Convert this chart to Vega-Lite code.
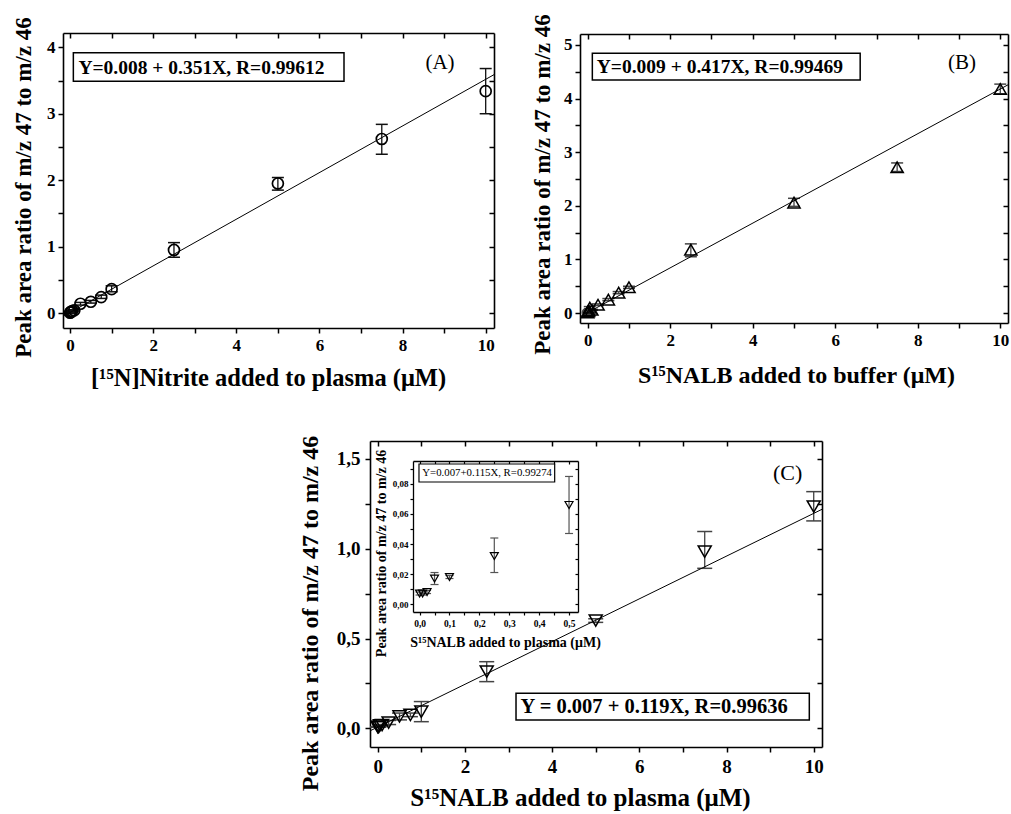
{
"$schema": "https://vega.github.io/schema/vega-lite/v6.json",
"width": 1011, "height": 814, "padding": 0, "autosize": {"type": "none"},
"background": "white",
"config": {
 "view": {"stroke": null},
 "axis": {"labelFont": "Liberation Serif", "titleFont": "Liberation Serif", "labelFontWeight": "bold", "titleFontWeight": "bold", "labelColor": "black", "titleColor": "black", "tickColor": "black", "domainColor": "black", "grid": false, "tickWidth": 1.5, "domainWidth": 1.6, "labelFlush": false, "labelOverlap": false, "labelBound": false}
},
"datasets": {
 "A": [
  {"x": 0, "y": 0.005, "lo": -0.01, "hi": 0.02},
  {"x": 0.01, "y": 0.01, "lo": 0.0, "hi": 0.02},
  {"x": 0.025, "y": 0.02, "lo": 0.01, "hi": 0.03},
  {"x": 0.05, "y": 0.03, "lo": 0.02, "hi": 0.04},
  {"x": 0.1, "y": 0.04, "lo": 0.03, "hi": 0.05},
  {"x": 0.25, "y": 0.14, "lo": 0.12, "hi": 0.16},
  {"x": 0.5, "y": 0.17, "lo": 0.15, "hi": 0.19},
  {"x": 0.75, "y": 0.24, "lo": 0.22, "hi": 0.27},
  {"x": 1, "y": 0.36, "lo": 0.32, "hi": 0.41},
  {"x": 2.5, "y": 0.95, "lo": 0.84, "hi": 1.06},
  {"x": 5, "y": 1.95, "lo": 1.85, "hi": 2.04},
  {"x": 7.5, "y": 2.62, "lo": 2.39, "hi": 2.84},
  {"x": 10, "y": 3.34, "lo": 3.0, "hi": 3.68}
 ],
 "B": [
  {"x": 0, "y": 0.01, "lo": 0.0, "hi": 0.02},
  {"x": 0.01, "y": 0.03, "lo": 0.02, "hi": 0.04},
  {"x": 0.025, "y": 0.05, "lo": 0.04, "hi": 0.06},
  {"x": 0.05, "y": 0.1, "lo": 0.08, "hi": 0.12},
  {"x": 0.1, "y": 0.06, "lo": 0.05, "hi": 0.07},
  {"x": 0.25, "y": 0.155, "lo": 0.14, "hi": 0.17},
  {"x": 0.5, "y": 0.25, "lo": 0.23, "hi": 0.27},
  {"x": 0.75, "y": 0.38, "lo": 0.36, "hi": 0.4},
  {"x": 1, "y": 0.48, "lo": 0.46, "hi": 0.5},
  {"x": 2.5, "y": 1.18, "lo": 1.05, "hi": 1.29},
  {"x": 5, "y": 2.06, "lo": 1.99, "hi": 2.14},
  {"x": 7.5, "y": 2.72, "lo": 2.64, "hi": 2.8},
  {"x": 10, "y": 4.18, "lo": 4.09, "hi": 4.27}
 ],
 "C": [
  {"x": 0, "y": 0.007, "lo": 0.006, "hi": 0.008},
  {"x": 0.01, "y": 0.007, "lo": 0.006, "hi": 0.008},
  {"x": 0.025, "y": 0.008, "lo": 0.007, "hi": 0.009},
  {"x": 0.05, "y": 0.017, "lo": 0.013, "hi": 0.021},
  {"x": 0.1, "y": 0.018, "lo": 0.017, "hi": 0.019},
  {"x": 0.25, "y": 0.032, "lo": 0.021, "hi": 0.044},
  {"x": 0.5, "y": 0.066, "lo": 0.047, "hi": 0.085},
  {"x": 0.75, "y": 0.075, "lo": 0.065, "hi": 0.085},
  {"x": 1, "y": 0.093, "lo": 0.037, "hi": 0.149},
  {"x": 2.5, "y": 0.316, "lo": 0.26, "hi": 0.371},
  {"x": 5, "y": 0.6, "lo": 0.59, "hi": 0.61},
  {"x": 7.5, "y": 0.984, "lo": 0.891, "hi": 1.096},
  {"x": 10, "y": 1.235, "lo": 1.155, "hi": 1.318}
 ]
},
"layer": [
 {
  "data": {"name": "A"},
  "layer": [
   {"mark": {"type": "rule", "color": "#111", "strokeWidth": 1.3},
    "encoding": {"x": {"field": "x", "type": "quantitative", "scale": {"domain": [-0.17, 10.2], "range": [63, 494], "nice": false, "zero": false}, "axis": null},
                 "y": {"field": "lo", "type": "quantitative", "scale": {"domain": [-0.225, 4.215], "range": [328, 33], "nice": false, "zero": false}, "axis": null}, "y2": {"field": "hi"}}},
   {"mark": {"type": "tick", "orient": "horizontal", "size": 12, "thickness": 1.5, "color": "#111", "opacity": 1},
    "encoding": {"x": {"field": "x", "type": "quantitative", "scale": {"domain": [-0.17, 10.2], "range": [63, 494], "nice": false, "zero": false}, "axis": null},
                 "y": {"field": "lo", "type": "quantitative", "scale": {"domain": [-0.225, 4.215], "range": [328, 33], "nice": false, "zero": false}, "axis": null}}},
   {"mark": {"type": "tick", "orient": "horizontal", "size": 12, "thickness": 1.5, "color": "#111", "opacity": 1},
    "encoding": {"x": {"field": "x", "type": "quantitative", "scale": {"domain": [-0.17, 10.2], "range": [63, 494], "nice": false, "zero": false}, "axis": null},
                 "y": {"field": "hi", "type": "quantitative", "scale": {"domain": [-0.225, 4.215], "range": [328, 33], "nice": false, "zero": false}, "axis": null}}},
   {"data": {"values": [{"x": -0.17, "y": -0.0517}, {"x": 10.2, "y": 3.5882}]}, "mark": {"type": "line", "color": "black", "strokeWidth": 1},
    "encoding": {
     "x": {"field": "x", "type": "quantitative", "scale": {"domain": [-0.17, 10.2], "range": [63, 494], "nice": false, "zero": false}, "axis": {"orient": "top", "offset": -33, "values": [0,1,2,3,4,5,6,7,8,9,10], "labels": false, "tickSize": -5, "title": null}},
     "y": {"field": "y", "type": "quantitative", "scale": {"domain": [-0.225, 4.215], "range": [328, 33], "nice": false, "zero": false}, "axis": {"orient": "right", "offset": -517, "values": [0,0.5,1,1.5,2,2.5,3,3.5,4], "labels": false, "tickSize": -5, "title": null}}
    }},
   {"mark": {"type": "point", "shape": "circle", "size": 120, "filled": false, "strokeWidth": 1.7, "color": "black", "opacity": 1},
    "encoding": {
     "x": {"field": "x", "type": "quantitative", "scale": {"domain": [-0.17, 10.2], "range": [63, 494], "nice": false, "zero": false}, "axis": {"orient": "bottom", "offset": -486, "values": [0,1,2,3,4,5,6,7,8,9,10], "labelExpr": "datum.value % 2 === 0 ? format(datum.value, 'd') : ''", "tickSize": 5, "labelFontSize": 17, "labelPadding": 4, "title": "[¹⁵N]Nitrite added to plasma (μM)", "titleFontSize": 24.5, "titlePadding": 13, "titleX": 268}},
     "y": {"field": "y", "type": "quantitative", "scale": {"domain": [-0.225, 4.215], "range": [328, 33], "nice": false, "zero": false}, "axis": {"orient": "left", "offset": -63, "values": [0,0.5,1,1.5,2,2.5,3,3.5,4], "labelExpr": "datum.value % 1 === 0 ? format(datum.value, 'd') : ''", "tickSize": 5, "labelFontSize": 17, "labelPadding": 3, "title": "Peak area ratio of m/z 47 to m/z 46", "titleFontSize": 23, "titlePadding": 11, "titleY": 187}}
    }},
   {"data": {"values": [{}]}, "mark": {"type": "rect", "fill": "white", "stroke": "black", "strokeWidth": 1.5},
    "encoding": {"x": {"datum": 0.079, "type": "quantitative", "scale": {"domain": [-0.17, 10.2], "range": [63, 494], "nice": false, "zero": false}, "axis": null}, "x2": {"datum": 6.591},
                 "y": {"datum": 3.916, "type": "quantitative", "scale": {"domain": [-0.225, 4.215], "range": [328, 33], "nice": false, "zero": false}, "axis": null}, "y2": {"datum": 3.488}}},
   {"data": {"values": [{}]}, "mark": {"type": "text", "text": "Y=0.008 + 0.351X, R=0.99612", "font": "Liberation Serif", "fontWeight": "bold", "fontSize": 19.5, "color": "black", "align": "left", "baseline": "middle"},
    "encoding": {"x": {"datum": 0.2, "type": "quantitative", "scale": {"domain": [-0.17, 10.2], "range": [63, 494], "nice": false, "zero": false}, "axis": null},
                 "y": {"datum": 3.687, "type": "quantitative", "scale": {"domain": [-0.225, 4.215], "range": [328, 33], "nice": false, "zero": false}, "axis": null}}},
   {"data": {"values": [{}]}, "mark": {"type": "text", "text": "(A)", "font": "Liberation Serif", "fontSize": 21, "color": "black", "align": "center", "baseline": "middle"},
    "encoding": {"x": {"datum": 8.9, "type": "quantitative", "scale": {"domain": [-0.17, 10.2], "range": [63, 494], "nice": false, "zero": false}, "axis": null},
                 "y": {"datum": 3.765, "type": "quantitative", "scale": {"domain": [-0.225, 4.215], "range": [328, 33], "nice": false, "zero": false}, "axis": null}}}
  ],
  "resolve": {"axis": {"x": "independent", "y": "independent"}}
 },
 {
  "data": {"name": "B"},
  "layer": [
   {"mark": {"type": "rule", "color": "#444", "strokeWidth": 1.3},
    "encoding": {"x": {"field": "x", "type": "quantitative", "scale": {"domain": [-0.187, 10.187], "range": [580, 1008], "nice": false, "zero": false}, "axis": null},
                 "y": {"field": "lo", "type": "quantitative", "scale": {"domain": [-0.186, 5.205], "range": [323, 34], "nice": false, "zero": false}, "axis": null}, "y2": {"field": "hi"}}},
   {"mark": {"type": "tick", "orient": "horizontal", "size": 12, "thickness": 1.5, "color": "#444", "opacity": 1},
    "encoding": {"x": {"field": "x", "type": "quantitative", "scale": {"domain": [-0.187, 10.187], "range": [580, 1008], "nice": false, "zero": false}, "axis": null},
                 "y": {"field": "lo", "type": "quantitative", "scale": {"domain": [-0.186, 5.205], "range": [323, 34], "nice": false, "zero": false}, "axis": null}}},
   {"mark": {"type": "tick", "orient": "horizontal", "size": 12, "thickness": 1.5, "color": "#444", "opacity": 1},
    "encoding": {"x": {"field": "x", "type": "quantitative", "scale": {"domain": [-0.187, 10.187], "range": [580, 1008], "nice": false, "zero": false}, "axis": null},
                 "y": {"field": "hi", "type": "quantitative", "scale": {"domain": [-0.186, 5.205], "range": [323, 34], "nice": false, "zero": false}, "axis": null}}},
   {"data": {"values": [{"x": -0.187, "y": -0.069}, {"x": 10.187, "y": 4.257}]}, "mark": {"type": "line", "color": "black", "strokeWidth": 1},
    "encoding": {
     "x": {"field": "x", "type": "quantitative", "scale": {"domain": [-0.187, 10.187], "range": [580, 1008], "nice": false, "zero": false}, "axis": {"orient": "top", "offset": -34, "values": [0,1,2,3,4,5,6,7,8,9,10], "labels": false, "tickSize": -5, "title": null}},
     "y": {"field": "y", "type": "quantitative", "scale": {"domain": [-0.186, 5.205], "range": [323, 34], "nice": false, "zero": false}, "axis": {"orient": "right", "offset": -3, "values": [0,0.5,1,1.5,2,2.5,3,3.5,4,4.5,5], "labels": false, "tickSize": -5, "title": null}}
    }},
   {"mark": {"type": "point", "shape": "triangle-up", "size": 150, "filled": false, "strokeWidth": 1.5, "color": "black", "opacity": 1},
    "encoding": {
     "x": {"field": "x", "type": "quantitative", "scale": {"domain": [-0.187, 10.187], "range": [580, 1008], "nice": false, "zero": false}, "axis": {"orient": "bottom", "offset": -491, "values": [0,1,2,3,4,5,6,7,8,9,10], "labelExpr": "datum.value % 2 === 0 ? format(datum.value, 'd') : ''", "tickSize": 5, "labelFontSize": 17, "labelPadding": 4, "title": "S¹⁵NALB added to buffer (μM)", "titleFontSize": 24, "titlePadding": 15, "titleX": 796}},
     "y": {"field": "y", "type": "quantitative", "scale": {"domain": [-0.186, 5.205], "range": [323, 34], "nice": false, "zero": false}, "axis": {"orient": "left", "offset": -580, "values": [0,0.5,1,1.5,2,2.5,3,3.5,4,4.5,5], "labelExpr": "datum.value % 1 === 0 ? format(datum.value, 'd') : ''", "tickSize": 5, "labelFontSize": 17, "labelPadding": 3, "title": "Peak area ratio of m/z 47 to m/z 46", "titleFontSize": 23, "titlePadding": 9, "titleY": 184}}
    }},
   {"data": {"values": [{}]}, "mark": {"type": "rect", "fill": "white", "stroke": "black", "strokeWidth": 1.5},
    "encoding": {"x": {"datum": 0.112, "type": "quantitative", "scale": {"domain": [-0.187, 10.187], "range": [580, 1008], "nice": false, "zero": false}, "axis": null}, "x2": {"datum": 6.604},
                 "y": {"datum": 4.844, "type": "quantitative", "scale": {"domain": [-0.186, 5.205], "range": [323, 34], "nice": false, "zero": false}, "axis": null}, "y2": {"datum": 4.347}}},
   {"data": {"values": [{}]}, "mark": {"type": "text", "text": "Y=0.009 + 0.417X, R=0.99469", "font": "Liberation Serif", "fontWeight": "bold", "fontSize": 19.5, "color": "black", "align": "left", "baseline": "middle"},
    "encoding": {"x": {"datum": 0.218, "type": "quantitative", "scale": {"domain": [-0.187, 10.187], "range": [580, 1008], "nice": false, "zero": false}, "axis": null},
                 "y": {"datum": 4.589, "type": "quantitative", "scale": {"domain": [-0.186, 5.205], "range": [323, 34], "nice": false, "zero": false}, "axis": null}}},
   {"data": {"values": [{}]}, "mark": {"type": "text", "text": "(B)", "font": "Liberation Serif", "fontSize": 21, "color": "black", "align": "center", "baseline": "middle"},
    "encoding": {"x": {"datum": 9.07, "type": "quantitative", "scale": {"domain": [-0.187, 10.187], "range": [580, 1008], "nice": false, "zero": false}, "axis": null},
                 "y": {"datum": 4.658, "type": "quantitative", "scale": {"domain": [-0.186, 5.205], "range": [323, 34], "nice": false, "zero": false}, "axis": null}}}
  ],
  "resolve": {"axis": {"x": "independent", "y": "independent"}}
 },
 {
  "data": {"name": "C"},
  "layer": [
   {"mark": {"type": "rule", "color": "#444", "strokeWidth": 1.3},
    "encoding": {"x": {"field": "x", "type": "quantitative", "scale": {"domain": [-0.177, 10.19], "range": [370, 822], "nice": false, "zero": false}, "axis": null},
                 "y": {"field": "lo", "type": "quantitative", "scale": {"domain": [-0.104, 1.6], "range": [747, 441], "nice": false, "zero": false}, "axis": null}, "y2": {"field": "hi"}}},
   {"mark": {"type": "tick", "orient": "horizontal", "size": 15, "thickness": 1.5, "color": "#444", "opacity": 1},
    "encoding": {"x": {"field": "x", "type": "quantitative", "scale": {"domain": [-0.177, 10.19], "range": [370, 822], "nice": false, "zero": false}, "axis": null},
                 "y": {"field": "lo", "type": "quantitative", "scale": {"domain": [-0.104, 1.6], "range": [747, 441], "nice": false, "zero": false}, "axis": null}}},
   {"mark": {"type": "tick", "orient": "horizontal", "size": 15, "thickness": 1.5, "color": "#444", "opacity": 1},
    "encoding": {"x": {"field": "x", "type": "quantitative", "scale": {"domain": [-0.177, 10.19], "range": [370, 822], "nice": false, "zero": false}, "axis": null},
                 "y": {"field": "hi", "type": "quantitative", "scale": {"domain": [-0.104, 1.6], "range": [747, 441], "nice": false, "zero": false}, "axis": null}}},
   {"data": {"values": [{"x": -0.177, "y": -0.0141}, {"x": 10.19, "y": 1.2196}]}, "mark": {"type": "line", "color": "black", "strokeWidth": 1},
    "encoding": {
     "x": {"field": "x", "type": "quantitative", "scale": {"domain": [-0.177, 10.19], "range": [370, 822], "nice": false, "zero": false}, "axis": {"orient": "top", "offset": -441, "values": [0,1,2,3,4,5,6,7,8,9,10], "labels": false, "tickSize": -5, "title": null}},
     "y": {"field": "y", "type": "quantitative", "scale": {"domain": [-0.104, 1.6], "range": [747, 441], "nice": false, "zero": false}, "axis": {"orient": "right", "offset": -189, "values": [0,0.25,0.5,0.75,1,1.25,1.5], "labels": false, "tickSize": -5, "title": null}}
    }},
   {"mark": {"type": "point", "shape": "triangle-down", "size": 170, "filled": false, "strokeWidth": 1.5, "color": "black", "opacity": 1},
    "encoding": {
     "x": {"field": "x", "type": "quantitative", "scale": {"domain": [-0.177, 10.19], "range": [370, 822], "nice": false, "zero": false}, "axis": {"orient": "bottom", "offset": -67, "values": [0,1,2,3,4,5,6,7,8,9,10], "labelExpr": "datum.value % 2 === 0 ? format(datum.value, 'd') : ''", "tickSize": 5, "labelFontSize": 19, "labelPadding": 5, "title": "S¹⁵NALB added to plasma (μM)", "titleFontSize": 25, "titlePadding": 9, "titleX": 580}},
     "y": {"field": "y", "type": "quantitative", "scale": {"domain": [-0.104, 1.6], "range": [747, 441], "nice": false, "zero": false}, "axis": {"orient": "left", "offset": -370, "values": [0,0.25,0.5,0.75,1,1.25,1.5], "labelExpr": "(datum.value * 2) % 1 === 0 ? replace(format(datum.value, '.1f'), '.', ',') : ''", "tickSize": 5, "labelFontSize": 19, "labelPadding": 5, "title": "Peak area ratio of m/z 47 to m/z 46", "titleFontSize": 24, "titlePadding": 14, "titleY": 613}}
    }},
   {"data": {"values": [{}]}, "mark": {"type": "rect", "fill": "white", "stroke": "black", "strokeWidth": 1.5},
    "encoding": {"x": {"datum": 3.172, "type": "quantitative", "scale": {"domain": [-0.177, 10.19], "range": [370, 822], "nice": false, "zero": false}, "axis": null}, "x2": {"datum": 9.899},
                 "y": {"datum": 0.195, "type": "quantitative", "scale": {"domain": [-0.104, 1.6], "range": [747, 441], "nice": false, "zero": false}, "axis": null}, "y2": {"datum": 0.046}}},
   {"data": {"values": [{}]}, "mark": {"type": "text", "text": "Y = 0.007 + 0.119X, R=0.99636", "font": "Liberation Serif", "fontWeight": "bold", "fontSize": 20.5, "color": "black", "align": "left", "baseline": "middle"},
    "encoding": {"x": {"datum": 3.275, "type": "quantitative", "scale": {"domain": [-0.177, 10.19], "range": [370, 822], "nice": false, "zero": false}, "axis": null},
                 "y": {"datum": 0.116, "type": "quantitative", "scale": {"domain": [-0.104, 1.6], "range": [747, 441], "nice": false, "zero": false}, "axis": null}}},
   {"data": {"values": [{}]}, "mark": {"type": "text", "text": "(C)", "font": "Liberation Serif", "fontSize": 22, "color": "black", "align": "center", "baseline": "middle"},
    "encoding": {"x": {"datum": 9.4, "type": "quantitative", "scale": {"domain": [-0.177, 10.19], "range": [370, 822], "nice": false, "zero": false}, "axis": null},
                 "y": {"datum": 1.424, "type": "quantitative", "scale": {"domain": [-0.104, 1.6], "range": [747, 441], "nice": false, "zero": false}, "axis": null}}}
  ],
  "resolve": {"axis": {"x": "independent", "y": "independent"}}
 },
 {
  "data": {"name": "C"},
  "transform": [{"filter": "datum.x <= 0.5"}],
  "layer": [
   {"mark": {"type": "rule", "color": "#555", "strokeWidth": 1.2},
    "encoding": {"x": {"field": "x", "type": "quantitative", "scale": {"domain": [-0.022, 0.53], "range": [413, 578], "nice": false, "zero": false}, "axis": null},
                 "y": {"field": "lo", "type": "quantitative", "scale": {"domain": [-0.0053, 0.0953], "range": [612, 461], "nice": false, "zero": false}, "axis": null}, "y2": {"field": "hi"}}},
   {"mark": {"type": "tick", "orient": "horizontal", "size": 8, "thickness": 1.2, "color": "#555", "opacity": 1},
    "encoding": {"x": {"field": "x", "type": "quantitative", "scale": {"domain": [-0.022, 0.53], "range": [413, 578], "nice": false, "zero": false}, "axis": null},
                 "y": {"field": "lo", "type": "quantitative", "scale": {"domain": [-0.0053, 0.0953], "range": [612, 461], "nice": false, "zero": false}, "axis": null}}},
   {"mark": {"type": "tick", "orient": "horizontal", "size": 8, "thickness": 1.2, "color": "#555", "opacity": 1},
    "encoding": {"x": {"field": "x", "type": "quantitative", "scale": {"domain": [-0.022, 0.53], "range": [413, 578], "nice": false, "zero": false}, "axis": null},
                 "y": {"field": "hi", "type": "quantitative", "scale": {"domain": [-0.0053, 0.0953], "range": [612, 461], "nice": false, "zero": false}, "axis": null}}},
   {"mark": {"type": "point", "shape": "triangle-down", "size": 64, "filled": false, "strokeWidth": 1.2, "color": "black", "opacity": 1},
    "encoding": {
     "x": {"field": "x", "type": "quantitative", "scale": {"domain": [-0.022, 0.53], "range": [413, 578], "nice": false, "zero": false}, "axis": {"orient": "top", "offset": -461, "values": [0,0.05,0.1,0.15,0.2,0.25,0.3,0.35,0.4,0.45,0.5], "labels": false, "tickSize": -3, "tickWidth": 1.2, "domainWidth": 1.3, "title": null}},
     "y": {"field": "y", "type": "quantitative", "scale": {"domain": [-0.0053, 0.0953], "range": [612, 461], "nice": false, "zero": false}, "axis": {"orient": "right", "offset": -433, "values": [0,0.01,0.02,0.03,0.04,0.05,0.06,0.07,0.08,0.09], "labels": false, "tickSize": -3, "tickWidth": 1.2, "domainWidth": 1.3, "title": null}}
    }},
   {"mark": {"type": "point", "shape": "triangle-down", "size": 64, "filled": false, "strokeWidth": 1.2, "color": "black", "opacity": 0},
    "encoding": {
     "x": {"field": "x", "type": "quantitative", "scale": {"domain": [-0.022, 0.53], "range": [413, 578], "nice": false, "zero": false}, "axis": {"orient": "bottom", "offset": -202, "values": [0,0.05,0.1,0.15,0.2,0.25,0.3,0.35,0.4,0.45,0.5], "labelExpr": "round(datum.value * 20) % 2 === 0 ? replace(format(datum.value, '.1f'), '.', ',') : ''", "tickSize": 3, "tickWidth": 1.2, "domainWidth": 1.3, "labelFontSize": 9.5, "labelPadding": 3, "title": "S¹⁵NALB added to plasma (μM)", "titleFontSize": 14, "titlePadding": 8, "titleX": 505}},
     "y": {"field": "y", "type": "quantitative", "scale": {"domain": [-0.0053, 0.0953], "range": [612, 461], "nice": false, "zero": false}, "axis": {"orient": "left", "offset": -413, "values": [0,0.01,0.02,0.03,0.04,0.05,0.06,0.07,0.08,0.09], "labelExpr": "round(datum.value * 100) % 2 === 0 ? replace(format(datum.value, '.2f'), '.', ',') : ''", "tickSize": 3, "tickWidth": 1.2, "domainWidth": 1.3, "labelFontSize": 9, "labelPadding": 2, "title": "Peak area ratio of m/z 47 to m/z 46", "titleFontSize": 14, "titlePadding": 4, "titleY": 553}}
    }},
   {"data": {"values": [{}]}, "mark": {"type": "rect", "fill": "white", "stroke": "black", "strokeWidth": 1.2},
    "encoding": {"x": {"datum": -0.002, "type": "quantitative", "scale": {"domain": [-0.022, 0.53], "range": [413, 578], "nice": false, "zero": false}, "axis": null}, "x2": {"datum": 0.452},
                 "y": {"datum": 0.0933, "type": "quantitative", "scale": {"domain": [-0.0053, 0.0953], "range": [612, 461], "nice": false, "zero": false}, "axis": null}, "y2": {"datum": 0.0813}}},
   {"data": {"values": [{}]}, "mark": {"type": "text", "text": "Y=0.007+0.115X, R=0.99274", "font": "Liberation Serif", "fontSize": 10.8, "color": "black", "align": "left", "baseline": "middle"},
    "encoding": {"x": {"datum": 0.009, "type": "quantitative", "scale": {"domain": [-0.022, 0.53], "range": [413, 578], "nice": false, "zero": false}, "axis": null},
                 "y": {"datum": 0.0873, "type": "quantitative", "scale": {"domain": [-0.0053, 0.0953], "range": [612, 461], "nice": false, "zero": false}, "axis": null}}}
  ],
  "resolve": {"axis": {"x": "independent", "y": "independent"}}
 }
],
"resolve": {"scale": {"x": "independent", "y": "independent"}}
}
